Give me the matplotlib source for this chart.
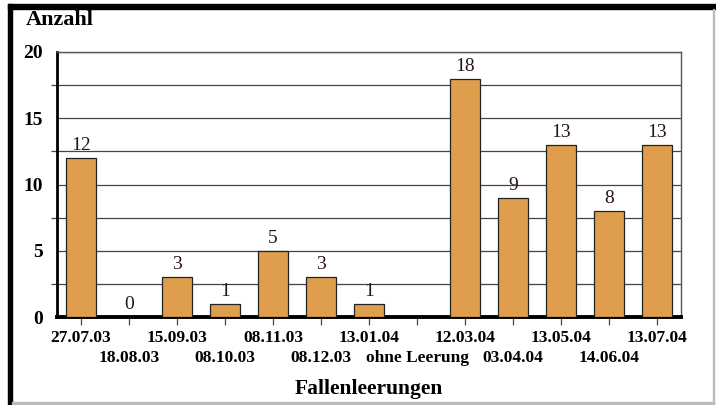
import numpy as np
import matplotlib.pyplot as plt
from matplotlib.patches import Rectangle
from matplotlib.ticker import MultipleLocator

# Fallenleerungen und Anzahl der Tiere je Leerung
dates = ["27.07.03", "18.08.03", "15.09.03", "08.10.03", "08.11.03", "08.12.03",
         "13.01.04", "ohne Leerung", "12.03.04", "03.04.04", "13.05.04",
         "14.06.04", "13.07.04"]
counts = [12, 0, 3, 1, 5, 3, 1, np.nan, 18, 9, 13, 8, 13]

plt.rcParams['font.family'] = ['Liberation Serif', 'DejaVu Serif']

fig = plt.figure(figsize=(7.16, 4.05), dpi=100)
ax = fig.add_axes([57 / 716, 1 - 317 / 405, 624 / 716, 265 / 405])

x = np.arange(len(dates))
ax.bar(x, counts, width=0.63, color='#DE9E4C', edgecolor='#222222', linewidth=0.9, zorder=3)

# Werte über den Balken
for xi, val in zip(x, counts):
    if np.isnan(val):
        continue
    ax.text(xi, val + 0.3, f"{int(val)}", ha='center', va='bottom',
            fontsize=14, color='#2a1414', zorder=4)

ax.set_xlim(-0.5, len(dates) - 0.5)
ax.set_ylim(0, 20)
ax.yaxis.set_major_locator(MultipleLocator(5))
ax.yaxis.set_minor_locator(MultipleLocator(2.5))
ax.grid(True, which='both', axis='y', color='#444444', linewidth=0.9, zorder=0)
ax.tick_params(axis='y', which='major', length=0, pad=10, labelsize=14)
ax.tick_params(axis='y', which='minor', length=4, width=0.9, color='#444444')
for lbl in ax.get_yticklabels():
    lbl.set_fontweight('bold')

# Datumsbeschriftung abwechselnd in zwei Zeilen: gerade als Haupt-, ungerade als Nebenticks
ax.set_xticks(x[::2])
ax.set_xticklabels(dates[::2], fontsize=12.5, fontweight='bold')
ax.set_xticks(x[1::2], minor=True)
ax.set_xticklabels(dates[1::2], minor=True, fontsize=12.5, fontweight='bold')
ax.tick_params(axis='x', which='major', length=6, width=0.9, color='#444444', pad=3)
ax.tick_params(axis='x', which='minor', length=6, width=0.9, color='#444444', pad=18)

for side in ['top', 'right']:
    ax.spines[side].set_color('#555555')
    ax.spines[side].set_linewidth(1.0)
ax.spines['left'].set_linewidth(2.0)
ax.spines['bottom'].set_linewidth(2.8)

ax.set_xlabel("Fallenleerungen", fontsize=15.5, fontweight='bold', labelpad=9)
fig.text(26 / 716, 1 - 20 / 405, "Anzahl", fontsize=16, fontweight='bold',
         ha='left', va='center')

# Rahmen um die Grafik
fig.patches.append(Rectangle((8 / 716, 1 - 9 / 405), 708 / 716, 5 / 405,
                             transform=fig.transFigure, color='black', figure=fig))
fig.patches.append(Rectangle((8 / 716, 0), 4 / 716, 1 - 4 / 405,
                             transform=fig.transFigure, color='black', figure=fig))
fig.patches.append(Rectangle((713 / 716, 0), 1.2 / 716, 1 - 9 / 405,
                             transform=fig.transFigure, color='#bbbbbb', figure=fig))
fig.patches.append(Rectangle((12 / 716, 1.5 / 405), 702 / 716, 1.2 / 405,
                             transform=fig.transFigure, color='#bbbbbb', figure=fig))

fig.savefig("out.png", dpi=100)
